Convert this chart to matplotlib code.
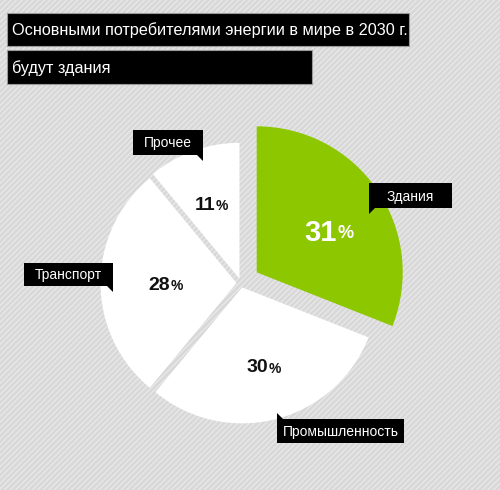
import matplotlib.pyplot as plt
from matplotlib.patches import Rectangle, Polygon

plt.rcParams['font.family'] = ['Liberation Sans', 'DejaVu Sans']
plt.rcParams['hatch.linewidth'] = 0.9

title1 = "Основными потребителями энергии в мире в 2030 г."
title2 = "будут здания"
labels = ["Здания", "Промышленность", "Транспорт", "Прочее"]
values = [31, 30, 28, 11]
colors = ["#8dc700", "white", "white", "white"]

W, H = 500, 490
R = 136          # white slices
R_GREEN = 146    # highlighted slice is a bit larger


def fy(y):
    # pixel row (from top) -> data y
    return H - y


fig = plt.figure(figsize=(5, 4.9), dpi=100)
ax = fig.add_axes([0, 0, 1, 1])
ax.set_xlim(0, W)
ax.set_ylim(0, H)
ax.axis('off')

# striped background
ax.add_patch(Rectangle((0, 0), W, H, facecolor="#d8d8d8", edgecolor="#e9e9e9",
                       hatch="//////", linewidth=0, zorder=0))

# explode is in data units here
explode = [19, 4.5, 4.5, 4.5]
wedges, _ = ax.pie(values, colors=colors, explode=explode, startangle=90,
                   counterclock=False, center=(241, fy(283)), radius=R,
                   frame=False, wedgeprops=dict(linewidth=0))
for w in wedges:
    w.set_zorder(2)
wedges[0].set_radius(R_GREEN)
ax.set_xlim(0, W)
ax.set_ylim(0, H)
ax.set_aspect('auto')

# title boxes
for (x0, y0, x1, y1, txt) in [(7, 13, 409, 46, title1), (7, 50, 312, 84, title2)]:
    ax.add_patch(Rectangle((x0, fy(y1)), x1 - x0, y1 - y0, facecolor="black",
                           edgecolor="#9a9a9a", linewidth=0.8, zorder=3))
    ax.text(x0 + 5, fy((y0 + y1) / 2 + 1), txt, color="white", fontsize=11.7,
            ha="left", va="center", zorder=4)


def callout(x0, y0, x1, y1, txt, tip):
    # black label box with a small pointer
    ax.add_patch(Rectangle((x0, fy(y1)), x1 - x0, y1 - y0, facecolor="black",
                           edgecolor="none", zorder=5))
    ax.add_patch(Polygon([(tip[0][0], fy(tip[0][1])), (tip[1][0], fy(tip[1][1])),
                          (tip[2][0], fy(tip[2][1]))], closed=True,
                         facecolor="black", edgecolor="none", zorder=5))
    ax.text((x0 + x1) / 2, fy((y0 + y1) / 2 + 1), txt, color="white",
            fontsize=10, ha="center", va="center", zorder=6)


callout(369, 183, 452, 208, labels[0], [(369, 207), (376, 207), (369, 214)])
callout(277, 419, 404, 443, labels[1], [(277, 420), (284, 420), (277, 413)])
callout(24, 263, 113, 286, labels[2], [(106, 285), (113, 285), (113, 292)])
callout(133, 130, 203, 155, labels[3], [(196, 154), (203, 154), (203, 161)])

# percentages
pct_pos = [(337, 233, "white", 21, 13),
           (268, 368, "#111111", 14, 10),
           (170, 285, "#111111", 14, 10),
           (215, 205, "#111111", 14, 10)]
for v, (x, y, c, big, small) in zip(values, pct_pos):
    ax.text(x, fy(y), str(v), color=c, fontsize=big, fontweight="bold",
            ha="right", va="center", zorder=6)
    ax.text(x + 1, fy(y + 1), "%", color=c, fontsize=small, fontweight="bold",
            ha="left", va="center", zorder=6)

fig.savefig("out.png", dpi=100)
